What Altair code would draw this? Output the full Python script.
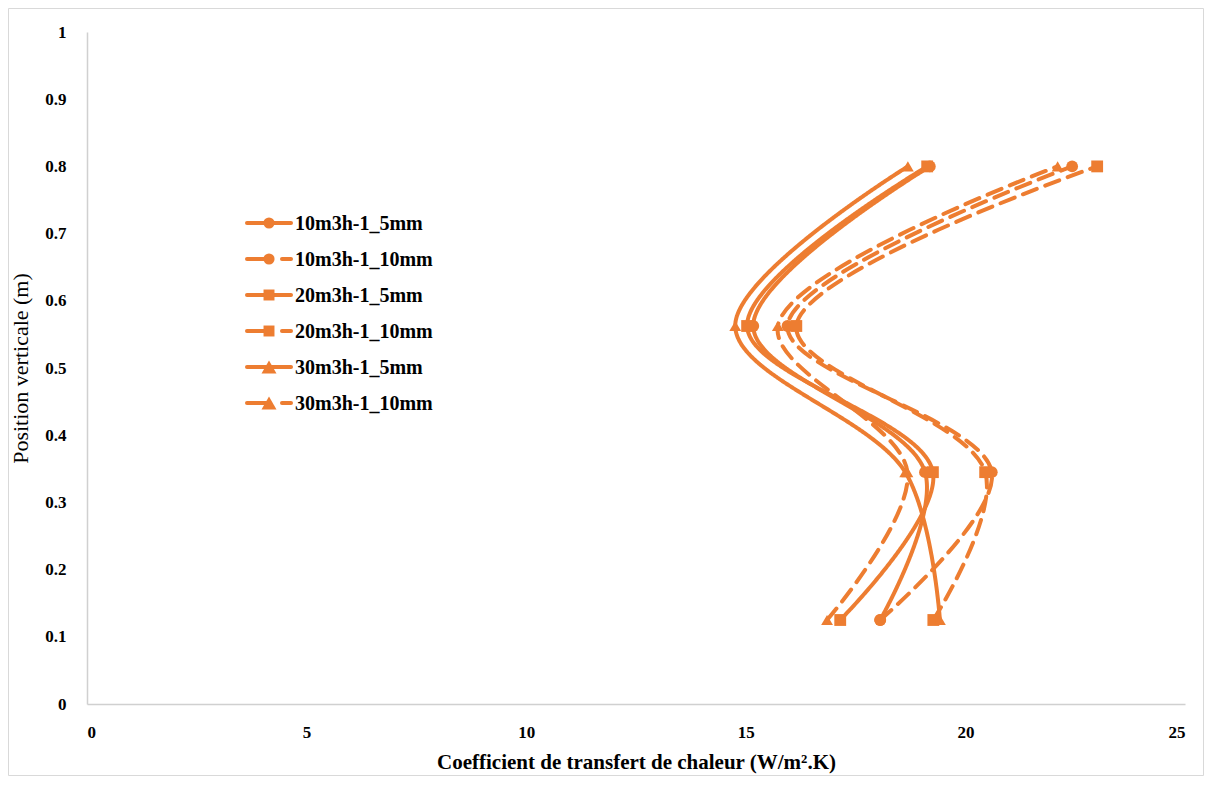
import altair as alt
import pandas as pd

ORANGE = "#ED7D31"

series = ["10m3h-1_5mm", "10m3h-1_10mm", "20m3h-1_5mm",
          "20m3h-1_10mm", "30m3h-1_5mm", "30m3h-1_10mm"]
positions = [0.125, 0.345, 0.5625, 0.8]
h_10_5 = [18.06, 19.08, 15.17, 19.19]
h_10_10 = [18.06, 20.60, 15.95, 22.43]
h_20_5 = [17.15, 19.26, 15.03, 19.13]
h_20_10 = [19.27, 20.45, 16.15, 23.00]
h_30_5 = [19.42, 18.63, 14.76, 18.69]
h_30_10 = [16.85, 18.68, 15.73, 22.10]
shapes = ["circle", "circle", "square", "square", "triangle-up", "triangle-up"]
marker_sizes = [140, 140, 135, 135, 240, 240]
dashed = [False, True, False, True, False, True]
x_ticks = [0, 5, 10, 15, 20, 25]
y_ticks = [0, 0.1, 0.2, 0.3, 0.4, 0.5, 0.6, 0.7, 0.8, 0.9, 1]

values = [h_10_5, h_10_10, h_20_5, h_20_10, h_30_5, h_30_10]
rows = []
for name, vals in zip(series, values):
    for yv, xv in zip(positions, vals):
        rows.append({"series": name, "pos": yv, "h": xv})
df = pd.DataFrame(rows)

DASH = [15, 9]
dash_range = [DASH if d else [1, 0] for d in dashed]

W, H = 1098, 672

x_enc = alt.X("h:Q", scale=alt.Scale(domain=[0, 25], nice=False),
              axis=alt.Axis(values=x_ticks, title="Coefficient de transfert de chaleur (W/m².K)",
                            format="~f", labelPadding=20, titlePadding=11,
                            titleFontWeight="bold", titleFontSize=21))
y_enc = alt.Y("pos:Q", scale=alt.Scale(domain=[0, 1], nice=False),
              axis=alt.Axis(values=y_ticks, title="Position verticale (m)",
                            format=".1~f", labelPadding=21, titlePadding=12,
                            titleFontWeight="normal", titleFontSize=22))

lines = alt.Chart(df).mark_line(
    interpolate="catmull-rom", strokeWidth=4, color=ORANGE, strokeCap="round"
).encode(
    x=x_enc, y=y_enc,
    detail="series:N",
    order=alt.Order("pos:Q"),
    strokeDash=alt.StrokeDash("series:N", scale=alt.Scale(domain=series, range=dash_range), legend=None),
)

points = alt.Chart(df).mark_point(filled=True, opacity=1, color=ORANGE).encode(
    x="h:Q", y="pos:Q",
    shape=alt.Shape("series:N", scale=alt.Scale(domain=series, range=shapes), legend=None),
    size=alt.Size("series:N", scale=alt.Scale(domain=series, range=marker_sizes), legend=None),
)

# border around the whole chart area
border = alt.Chart(alt.Data(values=[{"a": 1}])).mark_rect(
    fillOpacity=0, stroke="#d9d9d9", strokeWidth=1
).encode(x=alt.value(-78.5), x2=alt.value(W + 18.5), y=alt.value(-23.5), y2=alt.value(H + 71.5))

# legend
leg_layers = []
LX0, LX1, LM, LT = 160, 204, 182, 208
LY0, LSTEP = 191, 36
for i, (name, shp, sz, d) in enumerate(zip(series, shapes, marker_sizes, dashed)):
    yy = LY0 + LSTEP * i
    one = alt.Data(values=[{"s": name}])
    if d:
        segs = [(LX0, LX0 + 19), (LX0 + 35, LX1)]
    else:
        segs = [(LX0, LX1)]
    for a, b in segs:
        leg_layers.append(
            alt.Chart(one).mark_rule(color=ORANGE, strokeWidth=4, strokeCap="round").encode(
                x=alt.value(a), x2=alt.value(b), y=alt.value(yy))
        )
    leg_layers.append(
        alt.Chart(one).mark_point(filled=True, size=sz - 15, opacity=1, color=ORANGE, shape=shp).encode(
            x=alt.value(LM), y=alt.value(yy))
    )
    leg_layers.append(
        alt.Chart(one).mark_text(align="left", baseline="middle", font="Liberation Serif",
                                 fontSize=20, fontWeight="bold", color="#000000").encode(
            x=alt.value(LT), y=alt.value(yy + 1), text="s:N")
    )

chart = alt.layer(border, lines, points, *leg_layers).properties(
    width=W, height=H,
    autosize=alt.AutoSizeParams(type="none"),
    padding={"left": 79, "top": 24, "right": 19, "bottom": 72},
).configure_view(strokeWidth=0).configure_axis(
    grid=False, ticks=False, domainColor="#d0d0d0", domainWidth=1.5,
    labelFont="Liberation Serif", labelFontWeight="bold", labelFontSize=17, labelColor="#000000",
    titleFont="Liberation Serif", titleColor="#000000",
)

chart.save("out.html", embed_options={"renderer": "svg", "actions": False})
